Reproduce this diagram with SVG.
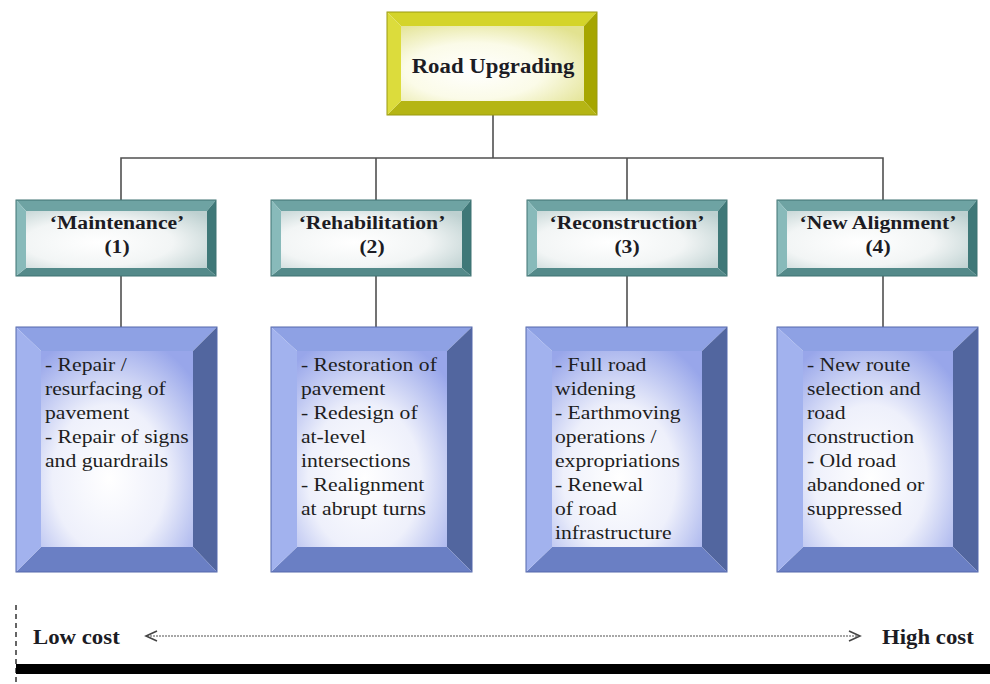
<svg xmlns="http://www.w3.org/2000/svg" width="990" height="684" viewBox="0 0 990 684">
<defs>
<radialGradient id="gY" cx="40%" cy="60%" r="75%">
<stop offset="0" stop-color="#ffffff"/><stop offset="0.5" stop-color="#fbfbe8"/><stop offset="1" stop-color="#e2e290"/>
</radialGradient>
<radialGradient id="gT" cx="40%" cy="55%" r="75%">
<stop offset="0" stop-color="#ffffff"/><stop offset="0.55" stop-color="#f2f5f5"/><stop offset="1" stop-color="#bdd0d0"/>
</radialGradient>
<radialGradient id="gB" cx="45%" cy="65%" r="75%">
<stop offset="0" stop-color="#ffffff"/><stop offset="0.5" stop-color="#eef0fb"/><stop offset="1" stop-color="#98a6ea"/>
</radialGradient>
<style>
.yt{fill:#d4d42a}.yr{fill:#a6a600}.yb{fill:#b5b514}.yl{fill:#dcdc3c}
.tt{fill:#6ea3a3}.tr{fill:#3f7878}.tb{fill:#548a8a}.tl{fill:#88baba}
.bt{fill:#8ea1e4}.br{fill:#52669f}.bb{fill:#6a7fc4}.bl{fill:#a2b2ee}
.edgeY{fill:none;stroke:#9a9a10;stroke-width:1}
.edgeT{fill:none;stroke:#3f7272;stroke-width:1}
.edgeB{fill:none;stroke:#5568ac;stroke-width:1}
.con{stroke:#505050;stroke-width:1.6;fill:none}
.hd{font-family:"Liberation Serif",serif;font-weight:bold;fill:#1c1c24}
.bd{font-family:"Liberation Serif",serif;font-size:19px;fill:#1e1e1e}
</style>
</defs>
<rect width="990" height="684" fill="#ffffff"/>

<g id="connectors">
<line class="con" x1="493" y1="115" x2="493" y2="158"/>
<polyline class="con" points="121,200 121,158 883,158 883,200"/>
<line class="con" x1="376" y1="158" x2="376" y2="200"/>
<line class="con" x1="627" y1="158" x2="627" y2="200"/>
<line class="con" x1="121" y1="276" x2="121" y2="327"/>
<line class="con" x1="376" y1="276" x2="376" y2="327"/>
<line class="con" x1="627" y1="276" x2="627" y2="327"/>
<line class="con" x1="883" y1="276" x2="883" y2="327"/>
</g>

<g id="road-upgrading">
<polygon class="yt" points="387,12 597,12 584,26 401,26"/>
<polygon class="yr" points="597,12 597,115 584,101 584,26"/>
<polygon class="yb" points="597,115 387,115 401,101 584,101"/>
<polygon class="yl" points="387,115 387,12 401,26 401,101"/>
<rect x="401" y="26" width="183" height="75" fill="url(#gY)"/>
<rect class="edgeY" x="387" y="12" width="210" height="103"/>
<text class="hd" font-size="20" transform="translate(493,73) scale(1.14,1)" text-anchor="middle">Road Upgrading</text>
</g>

<g id="maintenance">
<polygon class="tt" points="16,200 216,200 207,211 26,211"/>
<polygon class="tr" points="216,200 216,276 207,268 207,211"/>
<polygon class="tb" points="216,276 16,276 26,268 207,268"/>
<polygon class="tl" points="16,276 16,200 26,211 26,268"/>
<rect x="26" y="211" width="181" height="57" fill="url(#gT)"/>
<rect class="edgeT" x="16" y="200" width="200" height="76"/>
<text class="hd" font-size="19" transform="translate(117,229) scale(1.14,1)" text-anchor="middle">‘Maintenance’</text>
<text class="hd" font-size="19" transform="translate(117,253) scale(1.14,1)" text-anchor="middle">(1)</text>
</g>

<g id="rehabilitation">
<polygon class="tt" points="271,200 471,200 462,211 281,211"/>
<polygon class="tr" points="471,200 471,276 462,268 462,211"/>
<polygon class="tb" points="471,276 271,276 281,268 462,268"/>
<polygon class="tl" points="271,276 271,200 281,211 281,268"/>
<rect x="281" y="211" width="181" height="57" fill="url(#gT)"/>
<rect class="edgeT" x="271" y="200" width="200" height="76"/>
<text class="hd" font-size="19" transform="translate(372,229) scale(1.14,1)" text-anchor="middle">‘Rehabilitation’</text>
<text class="hd" font-size="19" transform="translate(372,253) scale(1.14,1)" text-anchor="middle">(2)</text>
</g>

<g id="reconstruction">
<polygon class="tt" points="527,200 727,200 718,211 537,211"/>
<polygon class="tr" points="727,200 727,276 718,268 718,211"/>
<polygon class="tb" points="727,276 527,276 537,268 718,268"/>
<polygon class="tl" points="527,276 527,200 537,211 537,268"/>
<rect x="537" y="211" width="181" height="57" fill="url(#gT)"/>
<rect class="edgeT" x="527" y="200" width="200" height="76"/>
<text class="hd" font-size="19" transform="translate(627,229) scale(1.14,1)" text-anchor="middle">‘Reconstruction’</text>
<text class="hd" font-size="19" transform="translate(627,253) scale(1.14,1)" text-anchor="middle">(3)</text>
</g>

<g id="new-alignment">
<polygon class="tt" points="777,200 977,200 968,211 787,211"/>
<polygon class="tr" points="977,200 977,276 968,268 968,211"/>
<polygon class="tb" points="977,276 777,276 787,268 968,268"/>
<polygon class="tl" points="777,276 777,200 787,211 787,268"/>
<rect x="787" y="211" width="181" height="57" fill="url(#gT)"/>
<rect class="edgeT" x="777" y="200" width="200" height="76"/>
<text class="hd" font-size="19" transform="translate(878,229) scale(1.14,1)" text-anchor="middle">‘New Alignment’</text>
<text class="hd" font-size="19" transform="translate(878,253) scale(1.14,1)" text-anchor="middle">(4)</text>
</g>

<g id="maintenance-details">
<polygon class="bt" points="16,327 217,327 193,351 41,351"/>
<polygon class="br" points="217,327 217,572 193,547 193,351"/>
<polygon class="bb" points="217,572 16,572 41,547 193,547"/>
<polygon class="bl" points="16,572 16,327 41,351 41,547"/>
<rect x="41" y="351" width="152" height="196" fill="url(#gB)"/>
<rect class="edgeB" x="16" y="327" width="201" height="245"/>
<text class="bd" transform="translate(45,371) scale(1.14,1)">
<tspan x="0" y="0">- Repair /</tspan>
<tspan x="0" y="24">resurfacing of</tspan>
<tspan x="0" y="48">pavement</tspan>
<tspan x="0" y="72">- Repair of signs</tspan>
<tspan x="0" y="96">and guardrails</tspan>
</text>
</g>

<g id="rehabilitation-details">
<polygon class="bt" points="271,327 472,327 447,351 297,351"/>
<polygon class="br" points="472,327 472,572 447,547 447,351"/>
<polygon class="bb" points="472,572 271,572 297,547 447,547"/>
<polygon class="bl" points="271,572 271,327 297,351 297,547"/>
<rect x="297" y="351" width="150" height="196" fill="url(#gB)"/>
<rect class="edgeB" x="271" y="327" width="201" height="245"/>
<text class="bd" transform="translate(301,371) scale(1.14,1)">
<tspan x="0" y="0">- Restoration of</tspan>
<tspan x="0" y="24">pavement</tspan>
<tspan x="0" y="48">- Redesign of</tspan>
<tspan x="0" y="72">at-level</tspan>
<tspan x="0" y="96">intersections</tspan>
<tspan x="0" y="120">- Realignment</tspan>
<tspan x="0" y="144">at abrupt turns</tspan>
</text>
</g>

<g id="reconstruction-details">
<polygon class="bt" points="526,327 727,327 702,351 552,351"/>
<polygon class="br" points="727,327 727,572 702,547 702,351"/>
<polygon class="bb" points="727,572 526,572 552,547 702,547"/>
<polygon class="bl" points="526,572 526,327 552,351 552,547"/>
<rect x="552" y="351" width="150" height="196" fill="url(#gB)"/>
<rect class="edgeB" x="526" y="327" width="201" height="245"/>
<text class="bd" transform="translate(555,371) scale(1.14,1)">
<tspan x="0" y="0">- Full road</tspan>
<tspan x="0" y="24">widening</tspan>
<tspan x="0" y="48">- Earthmoving</tspan>
<tspan x="0" y="72">operations /</tspan>
<tspan x="0" y="96">expropriations</tspan>
<tspan x="0" y="120">- Renewal</tspan>
<tspan x="0" y="144">of road</tspan>
<tspan x="0" y="168">infrastructure</tspan>
</text>
</g>

<g id="new-alignment-details">
<polygon class="bt" points="777,327 978,327 953,351 803,351"/>
<polygon class="br" points="978,327 978,572 953,547 953,351"/>
<polygon class="bb" points="978,572 777,572 803,547 953,547"/>
<polygon class="bl" points="777,572 777,327 803,351 803,547"/>
<rect x="803" y="351" width="150" height="196" fill="url(#gB)"/>
<rect class="edgeB" x="777" y="327" width="201" height="245"/>
<text class="bd" transform="translate(807,371) scale(1.14,1)">
<tspan x="0" y="0">- New route</tspan>
<tspan x="0" y="24">selection and</tspan>
<tspan x="0" y="48">road</tspan>
<tspan x="0" y="72">construction</tspan>
<tspan x="0" y="96">- Old road</tspan>
<tspan x="0" y="120">abandoned or</tspan>
<tspan x="0" y="144">suppressed</tspan>
</text>
</g>

<g id="cost-scale">
<line x1="16" y1="605" x2="16" y2="684" stroke="#333" stroke-width="1.5" stroke-dasharray="5,4"/>
<text class="hd" font-size="20" transform="translate(33,644) scale(1.14,1)">Low cost</text>
<line x1="147" y1="636" x2="858" y2="636" stroke="#8a8a8a" stroke-width="1.3" stroke-dasharray="2,1"/>
<polyline points="157,631 146,636 157,641" fill="none" stroke="#444" stroke-width="1.6"/>
<polyline points="849,631 860,636 849,641" fill="none" stroke="#444" stroke-width="1.6"/>
<text class="hd" font-size="20" transform="translate(882,644) scale(1.14,1)">High cost</text>
<rect x="16" y="664" width="974" height="10" fill="#000"/>
</g>
</svg>
